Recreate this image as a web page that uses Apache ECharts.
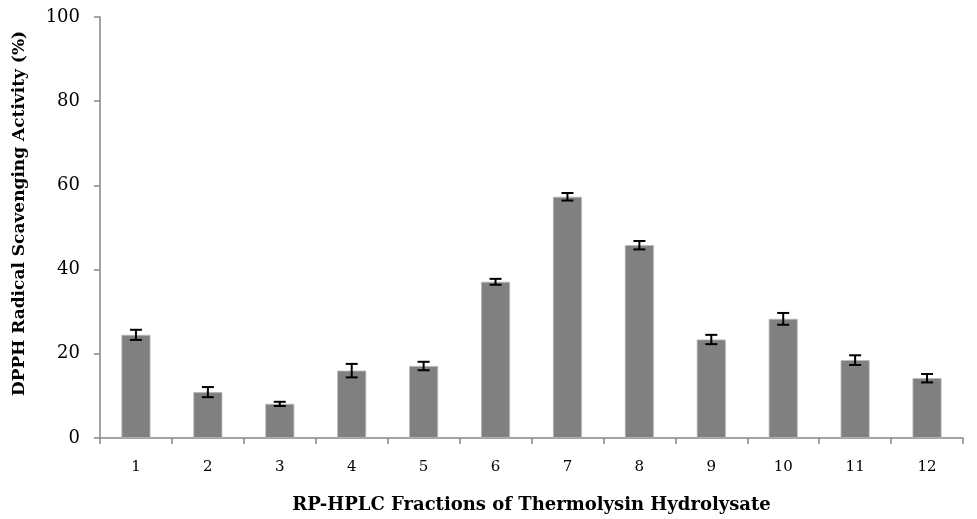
<!DOCTYPE html>
<html>
<head>
<meta charset="utf-8">
<script src="https://cdn.jsdelivr.net/npm/echarts@6/dist/echarts.min.js"></script>
<style>html,body{margin:0;padding:0;background:#fff;}#c{width:977px;height:519px;}</style>
</head>
<body>
<div id="c"></div>
<script>
const categories = ['1','2','3','4','5','6','7','8','9','10','11','12'];
const values = [24.5, 10.9, 8.1, 16.0, 17.1, 37.1, 57.3, 45.8, 23.4, 28.3, 18.5, 14.2];
const errors = [1.2, 1.2, 0.5, 1.6, 1.0, 0.7, 0.9, 1.0, 1.1, 1.4, 1.15, 1.0];
const yTicks = [0, 20, 40, 60, 80, 100];

const FONT = 'DejaVu Serif';
const chart = echarts.init(document.getElementById('c'));
chart.setOption({
  animation: false,
  backgroundColor: '#fff',
  grid: { left: 100, right: 14, top: 17, bottom: 81, outerBoundsMode: 'none', containLabel: false },
  xAxis: {
    type: 'category',
    data: categories,
    name: 'RP-HPLC Fractions of Thermolysin Hydrolysate',
    nameLocation: 'middle',
    nameGap: 58,
    nameTextStyle: { fontFamily: FONT, fontWeight: 'bold', fontSize: 18, color: '#000' },
    axisLine: { lineStyle: { color: '#868686', width: 1.5 } },
    axisTick: { show: true, length: 6, lineStyle: { color: '#868686', width: 1.5 } },
    axisLabel: { fontFamily: FONT, fontSize: 15, color: '#000', margin: 22 }
  },
  yAxis: {
    type: 'value',
    min: yTicks[0],
    max: yTicks[yTicks.length - 1],
    interval: 20,
    name: 'DPPH Radical Scavenging Activity (%)',
    nameLocation: 'middle',
    nameGap: 72,
    nameTextStyle: { fontFamily: FONT, fontWeight: 'bold', fontSize: 17, color: '#000', padding: [0, 0, 0, 28] },
    axisLine: { show: true, lineStyle: { color: '#868686', width: 1.5 } },
    axisTick: { show: true, length: 6, lineStyle: { color: '#868686', width: 1.5 } },
    splitLine: { show: false },
    axisLabel: { fontFamily: FONT, fontSize: 18, color: '#000', margin: 20 }
  },
  series: [
    {
      type: 'bar',
      data: values,
      barWidth: 29,
      itemStyle: { color: '#808080', borderColor: '#b8b8b8', borderWidth: 0.8 }
    },
    {
      type: 'custom',
      data: values.map((v, i) => [i, v - errors[i], v + errors[i]]),
      z: 10,
      renderItem: function (params, api) {
        const x = api.value(0);
        const lo = api.coord([x, api.value(1)]);
        const hi = api.coord([x, api.value(2)]);
        const hw = 6;
        const style = { stroke: '#000', lineWidth: 2, fill: null };
        return {
          type: 'group',
          children: [
            { type: 'line', shape: { x1: lo[0], y1: lo[1], x2: hi[0], y2: hi[1] }, style: style },
            { type: 'line', shape: { x1: lo[0] - hw, y1: lo[1], x2: lo[0] + hw, y2: lo[1] }, style: style },
            { type: 'line', shape: { x1: hi[0] - hw, y1: hi[1], x2: hi[0] + hw, y2: hi[1] }, style: style }
          ]
        };
      }
    }
  ]
});
</script>
</body>
</html>
